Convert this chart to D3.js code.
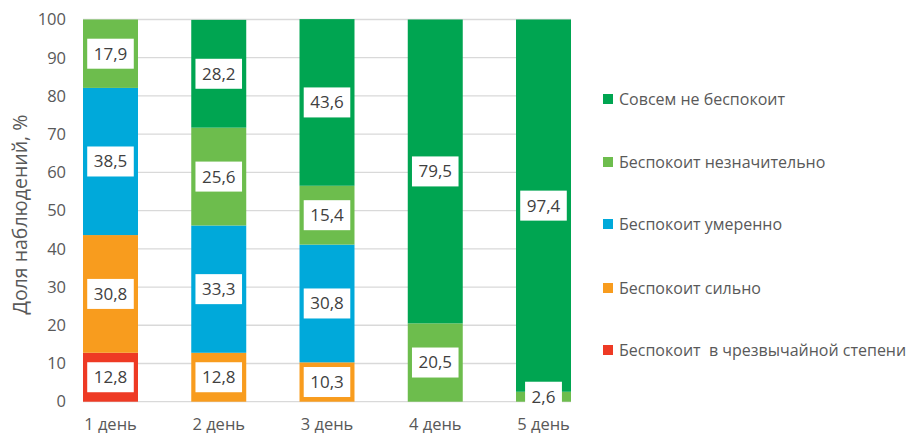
<!DOCTYPE html>
<html>
<head>
<meta charset="utf-8">
<script src="https://d3js.org/d3.v7.min.js"></script>
<style>
  body { margin: 0; background: #fff; }
  svg text { font-family: "Open Sans", "Noto Sans", sans-serif; }
</style>
</head>
<body>
<svg id="chart" width="909" height="436"></svg>
<script>
var days = ["1 день", "2 день", "3 день", "4 день", "5 день"];
var seriesNames = [
  "Беспокоит  в чрезвычайной степени",
  "Беспокоит сильно",
  "Беспокоит умеренно",
  "Беспокоит незначительно",
  "Совсем не беспокоит"
];
var extreme  = [12.8, 0, 0, 0, 0];
var strong   = [30.8, 12.8, 10.3, 0, 0];
var moderate = [38.5, 33.3, 30.8, 0, 0];
var slight   = [17.9, 25.6, 15.4, 20.5, 2.6];
var none     = [0, 28.2, 43.6, 79.5, 97.4];
var yTicks = [0, 10, 20, 30, 40, 50, 60, 70, 80, 90, 100];

var colors = ["#ee3a24", "#f89c1e", "#00a9da", "#6dbd4d", "#00a551"];
var allSeries = [extreme, strong, moderate, slight, none];

var svg = d3.select("#chart");
var plotLeft = 83, plotRight = 571, plotTop = 19.5, plotBottom = 401.7;

// table for the stack layout
var rows = days.map(function(d, i) {
  var r = { day: d };
  seriesNames.forEach(function(s, k) { r[s] = allSeries[k][i]; });
  return r;
});
var stacked = d3.stack().keys(seriesNames)(rows);

var xScale = d3.scaleBand()
    .domain(days)
    .range([plotLeft, plotRight])
    .paddingInner(0.492)
    .paddingOuter(0);

var yScale = d3.scaleLinear()
    .domain([0, 100])
    .range([plotBottom, plotTop]);

// gridlines
svg.append("g")
    .selectAll("line")
    .data(yTicks)
    .enter()
    .append("line")
    .attr("x1", plotLeft)
    .attr("x2", plotRight)
    .attr("y1", function(d) { return yScale(d); })
    .attr("y2", function(d) { return yScale(d); })
    .attr("stroke", "#d9d9d9")
    .attr("stroke-width", 1.3);

// y axis labels
var yAxis = d3.axisLeft(yScale).tickValues(yTicks).tickSize(0).tickPadding(17);
var yg = svg.append("g")
    .attr("transform", "translate(" + plotLeft + ",0)")
    .call(yAxis);
yg.select(".domain").remove();
yg.selectAll("text")
    .attr("font-size", 16.5)
    .attr("fill", "#595959")
    .style("font-family", "'Open Sans', sans-serif");

// x axis labels
var xAxis = d3.axisBottom(xScale).tickSize(0).tickPadding(17);
var xg = svg.append("g")
    .attr("transform", "translate(0," + plotBottom + ")")
    .call(xAxis);
xg.select(".domain").remove();
xg.selectAll("text")
    .attr("font-size", 16.5)
    .attr("fill", "#595959")
    .style("font-family", "'Open Sans', sans-serif");

// axis title
svg.append("text")
    .attr("transform", "translate(27," + ((plotTop + plotBottom) / 2 + 4) + ") rotate(-90)")
    .attr("text-anchor", "middle")
    .attr("font-size", 19.5)
    .attr("fill", "#595959")
    .text("Доля наблюдений, %");

// bars
var layers = svg.append("g")
    .selectAll("g")
    .data(stacked)
    .enter()
    .append("g")
    .attr("fill", function(d, i) { return colors[i]; });

layers.selectAll("rect")
    .data(function(d) { return d; })
    .enter()
    .append("rect")
    .attr("x", function(d) { return xScale(d.data.day); })
    .attr("width", xScale.bandwidth())
    .attr("y", function(d) { return yScale(d[1]); })
    .attr("height", function(d) { return yScale(d[0]) - yScale(d[1]); });

// data labels
var labelData = [];
stacked.forEach(function(layer) {
  layer.forEach(function(d) {
    var v = d[1] - d[0];
    if (v > 0) labelData.push({ day: d.data.day, v: v, mid: (d[0] + d[1]) / 2 });
  });
});

var labels = svg.append("g")
    .selectAll("g")
    .data(labelData)
    .enter()
    .append("g")
    .attr("transform", function(d) {
      return "translate(" + (xScale(d.day) + xScale.bandwidth() / 2) + "," + yScale(d.mid) + ")";
    });

labels.append("rect").attr("fill", "#fff");
labels.append("text")
    .attr("text-anchor", "middle")
    .attr("dy", "0.35em")
    .attr("font-size", 17)
    .attr("fill", "#404040")
    .text(function(d) { return d.v.toFixed(1).replace(".", ","); });

labels.each(function() {
  var g = d3.select(this);
  var w = g.select("text").node().getComputedTextLength();
  g.select("rect")
    .attr("x", -w / 2 - 6.5)
    .attr("width", w + 13)
    .attr("y", -15)
    .attr("height", 30);
});

// legend
var legendY = [350, 288, 224, 162, 99];
var legend = svg.append("g")
    .selectAll("g")
    .data(seriesNames)
    .enter()
    .append("g")
    .attr("transform", function(d, i) { return "translate(603," + legendY[i] + ")"; });

legend.append("rect")
    .attr("x", 0)
    .attr("y", -5)
    .attr("width", 10)
    .attr("height", 10)
    .attr("fill", function(d, i) { return colors[i]; });

legend.append("text")
    .attr("x", 16)
    .attr("dy", "0.35em")
    .attr("font-size", 16)
    .attr("fill", "#595959")
    .style("white-space", "pre")
    .text(function(d) { return d; });
</script>
</body>
</html>
